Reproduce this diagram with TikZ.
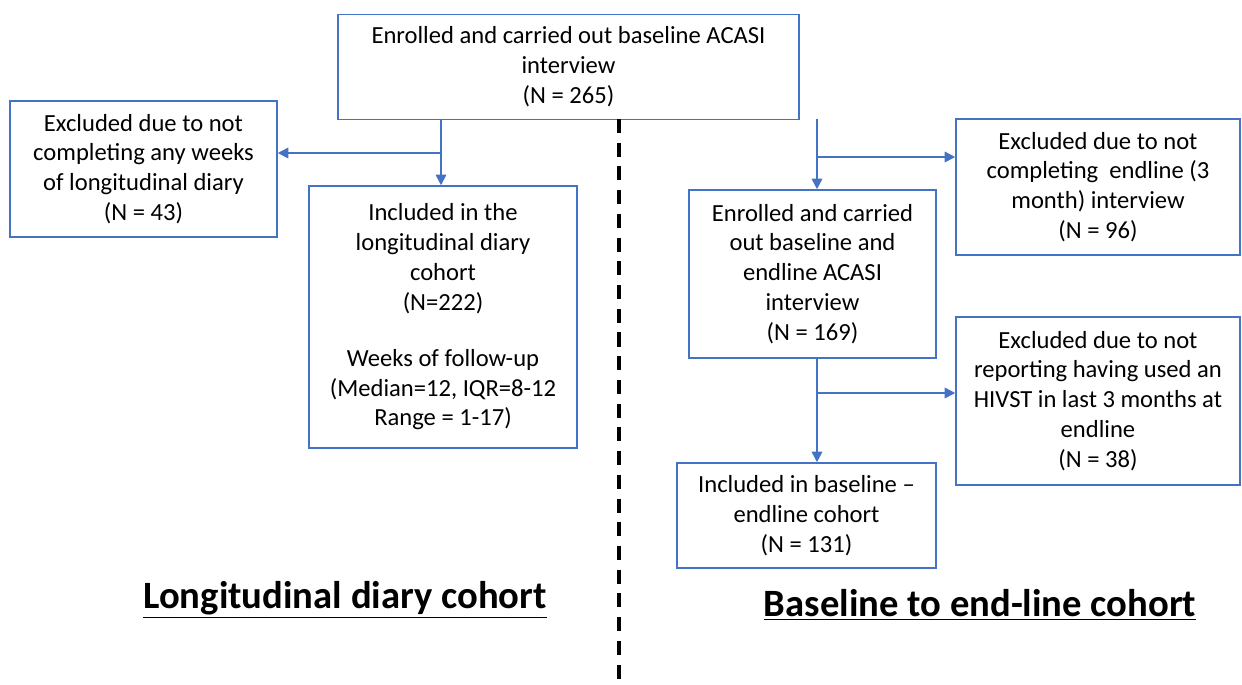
\documentclass[tikz,border=0pt]{standalone}
\usepackage{fontspec}
\setmainfont{Carlito}
\usepackage{tikz}
\usetikzlibrary{arrows.meta,calc}
\definecolor{flowblue}{HTML}{4472C4}

\begin{document}
\begin{tikzpicture}[x=0.02cm,y=-0.02cm,
    box/.style={draw=flowblue,line width=0.9pt,align=center,inner sep=2pt,
      font=\fontsize{14}{17}\selectfont},
    flow/.style={draw=flowblue,line width=0.9pt,-{Triangle[length=6pt,width=6pt]}},
    title/.style={font=\fontsize{22}{26}\selectfont\bfseries}]
    \useasboundingbox (0,0) rectangle (1242,684);
    % boxes
    \node (top) at (568.5,67) [box,minimum width=9.22cm,minimum height=2.1cm]
      {Enrolled and carried out baseline ACASI\\interview\\(N = 265)};
    \node (exclA) at (143.5,169) [box,minimum width=5.34cm,minimum height=2.72cm]
      {Excluded due to not\\completing any weeks\\of longitudinal diary\\(N = 43)};
    \node (diary) at (443,317) [box,minimum width=5.36cm,minimum height=5.24cm]
      {Included in the\\longitudinal diary\\cohort\\(N=222)\\[1.05em]Weeks of follow-up\\(Median=12, IQR=8-12\\Range = 1-17)};
    \node (enrolB) at (812.5,274) [box,minimum width=4.94cm,minimum height=3.36cm]
      {Enrolled and carried\\out baseline and\\endline ACASI\\interview\\(N = 169)};
    \node (exclB) at (1098,187) [box,minimum width=5.68cm,minimum height=2.72cm]
      {Excluded due to not\\completing\ \ endline (3\\month) interview\\(N = 96)};
    \node (exclC) at (1098,401) [box,minimum width=5.68cm,minimum height=3.36cm]
      {Excluded due to not\\reporting having used an\\HIVST in last 3 months at\\endline\\(N = 38)};
    \node (inclB) at (806.5,515.5) [box,minimum width=5.18cm,minimum height=2.1cm]
      {Included in baseline --\\endline cohort\\(N = 131)};
    % connectors
    \coordinate (splitA) at (441,119);
    \coordinate (forkA) at (441,153);
    \coordinate (splitB) at (817,119);
    \coordinate (forkB) at (817,157);
    \coordinate (splitC) at (817,358);
    \coordinate (forkC) at (817,393);
    \draw[flow] (splitA) -- (splitA |- diary.north);
    \draw[flow] (forkA) -- (forkA -| exclA.east);
    \draw[flow] (splitB) -- (splitB |- enrolB.north);
    \draw[flow] (forkB) -- (forkB -| exclB.west);
    \draw[flow] (splitC) -- (splitC |- inclB.north);
    \draw[flow] (forkC) -- (forkC -| exclC.west);
    % divider
    \coordinate (divtop) at (619,119);
    \coordinate (divbot) at (619,684);
    \draw[black,line width=2.2pt,dash pattern=on 8pt off 5.5pt] (divtop) -- (divbot);
    % cohort titles
    \node (titleA) at (345,600) [title] {\underline{Longitudinal diary cohort}};
    \node (titleB) at (980,605) [title] {\underline{Baseline to end-line cohort}};
  \end{tikzpicture}
\end{document}
